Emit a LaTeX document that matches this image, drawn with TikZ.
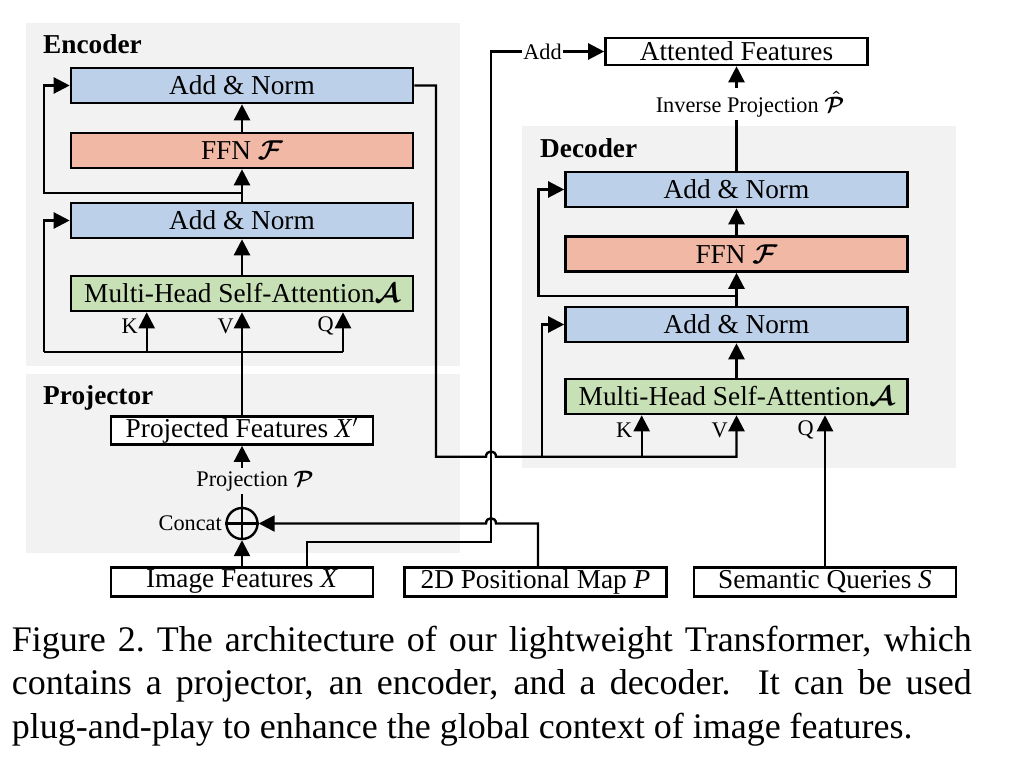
\RequirePackage{fix-cm}
\documentclass[tikz,border=0pt]{standalone}
\usepackage{amsmath}
\usepackage{fontspec}
\setmainfont{Liberation Serif}
\usetikzlibrary{arrows.meta,calc}
\definecolor{bggray}{RGB}{242,242,242}
\definecolor{anblue}{RGB}{189,208,233}
\definecolor{ffnred}{RGB}{241,184,166}
\definecolor{mhgreen}{RGB}{199,224,181}
\newcommand\fbig{\fontsize{27.3}{31}\selectfont}
\newcommand\fsmall{\fontsize{22.3}{26}\selectfont}
\tikzset{
  ln/.style={line width=2.4pt},
  arr/.style={line width=2.4pt,-{Triangle[length=16pt,width=16pt]}},
  blk/.style={draw,line width=2.6pt,inner sep=0pt,minimum width=342pt,minimum height=35pt,font=\fbig},
  wbox/.style={draw,line width=2.6pt,inner sep=0pt,fill=white,minimum width=262pt,minimum height=28pt,font=\fbig},
  lbl/.style={font=\fsmall,inner sep=3pt},
  kvq/.style={font=\fsmall,inner sep=0pt,anchor=east},
  hdr/.style={font=\fbig\bfseries,inner sep=0pt,anchor=base west},
}
\begin{document}
\begin{tikzpicture}[x=1pt,y=-1pt]
\useasboundingbox (0,0) rectangle (1026,768);
% backgrounds
\fill[bggray] (26,23) rectangle (460,366);
\fill[bggray] (26,374) rectangle (460,553);
\fill[bggray] (522,126) rectangle (956,468);
% headers
\node[hdr] (hEnc) at (43,53.3) {Encoder};
\node[hdr] (hProj) at (43,404.3) {Projector};
\node[hdr] (hDec) at (540,157.3) {Decoder};
% encoder blocks
\node[blk,fill=anblue] (eAN2) at (242,85.5) {Add \& Norm};
\node[blk,fill=ffnred] (eFFN) at (242,150.5) {FFN $\boldsymbol{\mathcal{F}}$};
\node[blk,fill=anblue] (eAN1) at (242,220.5) {Add \& Norm};
\node[blk,fill=mhgreen] (eMH) at (242,293.5) {Multi-Head Self-Attention$\boldsymbol{\mathcal{A}}$};
% decoder blocks
\node[blk,fill=anblue] (dAN2) at (736.5,189.5) {Add \& Norm};
\node[blk,fill=ffnred] (dFFN) at (736.5,254) {FFN $\boldsymbol{\mathcal{F}}$};
\node[blk,fill=anblue] (dAN1) at (736.5,324.5) {Add \& Norm};
\node[blk,fill=mhgreen] (dMH) at (736.5,396.5) {Multi-Head Self-Attention$\boldsymbol{\mathcal{A}}$};
% white boxes
\node[wbox] (proj) at (242,430.5) {Projected Features \textit{X}$'$};
\node[wbox,minimum height=29pt] (imgF) at (242,582) {Image Features \textit{X}};
\node[wbox,minimum height=29pt] (posM) at (535.5,582) {2D Positional Map \textit{P}};
\node[wbox,minimum height=29pt] (semQ) at (825,582) {Semantic Queries \textit{S}};
\node[wbox,minimum height=27pt] (attF) at (736.5,51.5) {Attented Features};
% small labels
\node[lbl] (projL) at (255,481) {Projection $\boldsymbol{\mathcal{P}}$};
\node[lbl] (invL) at (750,104) {Inverse Projection $\boldsymbol{\hat{\mathcal{P}}}$};
\node[lbl,inner sep=1pt] (addL) at (542.5,51.5) {Add};
\node[font=\fsmall,inner sep=0pt,anchor=east] (catL) at (222,523.5) {Concat};
\node[kvq] (eKl) at (138,326) {K};
\node[kvq] (eVl) at (234,326) {V};
\node[kvq] (eQl) at (334,326) {Q};
\node[kvq] (dKl) at (632.5,430) {K};
\node[kvq] (dVl) at (728,430) {V};
\node[kvq] (dQl) at (814,430) {Q};
% concat circle
\node[circle,draw,line width=2.4pt,minimum size=31pt,inner sep=0pt] (cat) at (242,523.5) {};
\draw[ln] (cat.north) -- (cat.south);
\draw[ln] (cat.west) -- (cat.east);
% encoder connectors
\coordinate (eJ1) at (242,352);
\coordinate (eL1) at (44,352);
\coordinate (eK) at (146.7,352);
\coordinate (eQ) at (343,352);
\coordinate (eJ2) at (242,192.7);
\coordinate (eR2) at (44,192.7);
\draw[arr] (proj.north) -- (eMH.south);
\draw[ln] (eL1) -- (eQ);
\draw[arr] (eK) -- (eK |- eMH.south);
\draw[arr] (eQ) -- (eQ |- eMH.south);
\draw[arr] (eL1) |- (eAN1.west);
\draw[arr] (eMH) -- (eAN1);
\draw[arr] (eAN1) -- (eFFN);
\draw[arr] (eFFN) -- (eAN2);
\draw[arr] (eJ2) -- (eR2) |- (eAN2.west);
% encoder output to decoder
\coordinate (eOut) at (436,85.5);
\coordinate (eDown) at (436,456.7);
\coordinate (hA1) at (486,456.7);
\coordinate (hA2) at (496,456.7);
\coordinate (dV) at (736.5,456.7);
\coordinate (dK) at (641.7,456.7);
\coordinate (dR1) at (541.7,456.7);
\draw[arr] (eAN2.east) -- (eOut) -- (eDown) -- (hA1) .. controls +(0,-7) and +(0,-7) .. (hA2) -- (dV) -- (dMH.south);
\draw[arr] (dK) -- (dK |- dMH.south);
\draw[arr] (dR1) |- (dAN1.west);
\draw[arr] (semQ.north) -- (dMH.south -| semQ.north);
% decoder internals
\coordinate (dJ2) at (736.5,296);
\coordinate (dR2) at (538.5,296);
\draw[arr] (dMH) -- (dAN1);
\draw[arr] (dAN1) -- (dFFN);
\draw[arr] (dFFN) -- (dAN2);
\draw[arr] (dJ2) -- (dR2) |- (dAN2.west);
\draw[ln] (dAN2.north) -- (dAN2.north |- invL.south);
\draw[arr] (attF.south |- invL.north) -- (attF.south);
% projector
\draw[arr] (imgF.north) -- (cat.south);
\draw[ln] (cat.north) -- (cat.north |- projL.south);
\draw[arr] (proj.south |- projL.north) -- (proj.south);
\coordinate (iB) at (307,567.5);
\coordinate (iU) at (307,541.7);
\coordinate (iR) at (491,541.7);
\coordinate (iT) at (491,51.5);
\draw[ln] (iB) -- (iU) -- (iR) -- (iT) -- (addL.west);
\draw[arr] (addL.east) -- (attF.west);
\coordinate (pB) at (538,567.5);
\coordinate (pU) at (538,523.5);
\coordinate (hB1) at (496,523.5);
\coordinate (hB2) at (486,523.5);
\draw[arr] (pB) -- (pU) -- (hB1) .. controls +(0,-7) and +(0,-7) .. (hB2) -- (cat.east);
% caption
\node[anchor=base west,inner sep=0pt,text width=960pt,align=justify,font=\fontsize{36}{43.5}\selectfont] (cap) at (11.7,651)
{Figure 2.\ The architecture of our lightweight Transformer, which\linebreak contains a projector, an encoder, and a decoder.  It can be used\linebreak plug-and-play to enhance the global context of image features.};
\end{tikzpicture}
\end{document}
